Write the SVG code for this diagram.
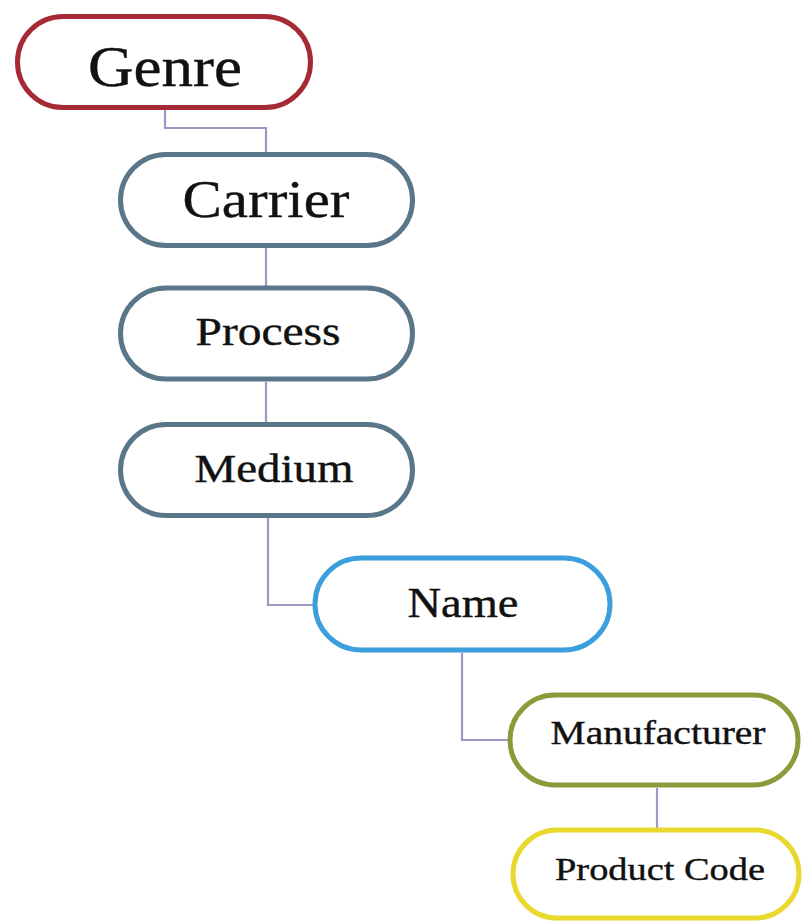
<svg xmlns="http://www.w3.org/2000/svg" width="803" height="923" viewBox="0 0 803 923">
<style>
.box{fill:#ffffff;stroke-width:5}
.lbl{font-family:"Liberation Serif","Times New Roman",serif;fill:#111111;text-anchor:middle;stroke:#111111;stroke-width:0.4}
.con{fill:none;stroke:#9c99c6;stroke-width:2.2}
</style>
<rect width="803" height="923" fill="#ffffff"/>
<g id="connectors">
<polyline class="con" points="165,109 165,128 266,128 266,154"/>
<line class="con" x1="266" y1="247" x2="266" y2="287"/>
<line class="con" x1="266" y1="382" x2="266" y2="424"/>
<polyline class="con" points="268,518 268,605 314,605"/>
<polyline class="con" points="462,653 462,740 509,740"/>
<line class="con" x1="657" y1="788" x2="657" y2="829"/>
</g>
<g id="genre">
<rect class="box" x="17.5" y="16.5" width="293" height="91" rx="45.5" stroke="#a52a35"/>
<text class="lbl" x="165" y="86" font-size="56" textLength="154" lengthAdjust="spacingAndGlyphs">Genre</text>
</g>
<g id="carrier">
<rect class="box" x="120.5" y="154.5" width="292" height="91" rx="45.5" stroke="#5a7689"/>
<text class="lbl" x="266" y="217" font-size="53" textLength="167" lengthAdjust="spacingAndGlyphs">Carrier</text>
</g>
<g id="process">
<rect class="box" x="120.5" y="288" width="292" height="91" rx="45.5" stroke="#5a7689"/>
<text class="lbl" x="268" y="345" font-size="39" textLength="145" lengthAdjust="spacingAndGlyphs">Process</text>
</g>
<g id="medium">
<rect class="box" x="120.5" y="424.5" width="292" height="91" rx="45.5" stroke="#5a7689"/>
<text class="lbl" x="274" y="482" font-size="40" textLength="159" lengthAdjust="spacingAndGlyphs">Medium</text>
</g>
<g id="name">
<rect class="box" x="315" y="558" width="295" height="92" rx="46" stroke="#3b9fdc"/>
<text class="lbl" x="463" y="617" font-size="42" textLength="111" lengthAdjust="spacingAndGlyphs">Name</text>
</g>
<g id="manufacturer">
<rect class="box" x="510" y="695" width="288" height="90" rx="45" stroke="#8c9a3a"/>
<text class="lbl" x="658" y="744" font-size="34" textLength="215" lengthAdjust="spacingAndGlyphs">Manufacturer</text>
</g>
<g id="product-code">
<rect class="box" x="513" y="830" width="286" height="88" rx="44" stroke="#e9d92e"/>
<text class="lbl" x="660" y="880" font-size="32" textLength="210" lengthAdjust="spacingAndGlyphs">Product Code</text>
</g>
</svg>
